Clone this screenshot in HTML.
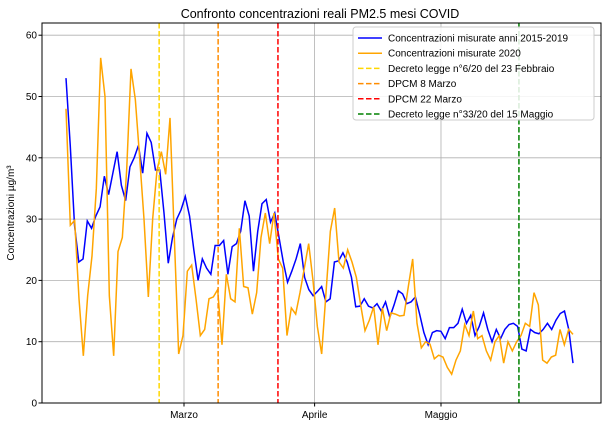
<!DOCTYPE html>
<html><head><meta charset="utf-8">
<style>
body{margin:0;background:#fff;font-family:"Liberation Sans",sans-serif;}
svg text{font-family:"Liberation Sans",sans-serif;}
</style></head>
<body>
<svg id="chart" width="606" height="427" xmlns="http://www.w3.org/2000/svg">
<text x="320" y="18" font-size="12.5" text-anchor="middle">Confronto concentrazioni reali PM2.5 mesi COVID</text>
<g id="grid"></g>
<g id="lines"></g>
<g id="axes"></g>
<text transform="translate(14,213) rotate(-90)" font-size="10" text-anchor="middle">Concentrazioni µg/m³</text>
<g id="legend"></g>
</svg>
<script>
const blueVals=[53,42,29,23,23.5,29.7,28.5,30.5,32,37,34,37.5,41,35.5,33,38.5,40,42,37.5,44,42.5,38,38,31,22.8,27,30,31.5,33.7,30.5,25,20,23.5,22,21,25.7,25.7,26.5,21,25.5,26,28,33,30.5,21.5,28,32.5,33.2,29.5,31,27,23,19.7,21.5,23.5,26,20.5,18.5,17.5,18.2,19,16.5,17,23,23.2,24.5,23,20.5,15.7,15.8,17,15.8,15.5,16.2,15,16.5,14,16,18.3,17.8,16.2,16.5,17.3,14.5,11.5,9.5,11.5,11.8,11.7,10.5,12.3,12.3,13,15.3,13,14.3,11,12.5,14.7,12,10,12,10.5,12,12.8,13,12.5,8.8,8.5,12,11.5,11.3,12,13,12,13.5,14.6,15,12,6.5];
const orangeVals=[48,29,29.8,17,7.7,17.5,24,35,56.3,50,17.5,7.7,24.7,27,38,54.5,49.5,40,30,17.3,30,38,41,37.3,46.5,27,8,11,21.5,22.5,17,11,12,17,17.3,18.5,9.5,21,17,16.5,28.5,19,18.8,14.5,18,27,31,26,31,23.5,22,11,15.5,14.5,18,22,26,20,12.5,8,18,28,31.8,23,22,25,23,20.5,16,11.8,13.5,15.7,9.5,15.5,11.8,14.7,14.5,14.2,14.3,19,23.5,13,9,10,9.6,7.2,7.8,7.5,5.8,4.7,7,8.5,12.8,11,15,10.5,11,8.5,7,10,11,6.5,10,8.5,10,11,13,12.5,18,16,7,6.5,7.5,7.8,12,9.5,12,11.2];
const yTicks=[0,10,20,30,40,50,60];
const monthLabels=["Marzo","Aprile","Maggio"];
const monthDays=[29,60,90];
const eventDays=[23.1,37.1,51.3,108.5];
const eventNames=["Decreto legge n°6/20 del 23 Febbraio","DPCM 8 Marzo","DPCM 22 Marzo","Decreto legge n°33/20 del 15 Maggio"];
const eventColors=["#ffd700","#ff8c00","#ff0000","#008000"];

const L=42,R=601,T=23,B=403,x0=66,x1=573;
const NS="http://www.w3.org/2000/svg";
function sx(i,n){return x0+(x1-x0)*i/(n-1);}
function dx(d){return 184+(d-29)*4.213;}
function sy(v){return B-v*6.13;}
function mk(tag,attrs,parent){const e=document.createElementNS(NS,tag);for(const k in attrs)e.setAttribute(k,attrs[k]);parent.appendChild(e);return e;}
const grid=document.getElementById('grid'),lines=document.getElementById('lines'),axes=document.getElementById('axes'),leg=document.getElementById('legend');
yTicks.forEach(v=>{
  const g=mk('line',{x1:L,x2:R,y1:sy(v),y2:sy(v),stroke:'#b0b0b0','stroke-width':0.8},grid);
  
  
  const t=mk('text',{x:L-5,y:sy(v)+3.5,'font-size':10,'text-anchor':'end'},axes);t.textContent=v;
  
  
  mk('line',{x1:L-3.5,x2:L,y1:sy(v),y2:sy(v),stroke:'#000'},axes);
});
monthDays.forEach((d,i)=>{
  const g=mk('line',{x1:dx(d),x2:dx(d),y1:T,y2:B,stroke:'#b0b0b0','stroke-width':0.8},grid);
  
  
  mk('line',{x1:dx(d),x2:dx(d),y1:B,y2:B+3.5,stroke:'#000'},axes);
  const t=mk('text',{x:dx(d),y:B+15,'font-size':10,'text-anchor':'middle'},axes);t.textContent=monthLabels[i];
  
  
});
function series(vals,color,name){
  const p=mk('polyline',{points:vals.map((v,i)=>sx(i,vals.length)+','+sy(v)).join(' '),fill:'none',stroke:color,'stroke-width':1.5},lines);
  
  
}
series(blueVals,'#0000ff','series-2015-2019');
series(orangeVals,'#ffa500','series-2020');
eventDays.forEach((d,i)=>{
  const l=mk('line',{x1:dx(d),x2:dx(d),y1:T,y2:B,stroke:eventColors[i],'stroke-width':1.5,'stroke-dasharray':'5.5,2.5'},lines);
  
  
});
mk('rect',{x:L,y:T,width:R-L,height:B-T,fill:'none',stroke:'#000','stroke-width':1},axes);
mk('rect',{x:353,y:27,width:241,height:93,fill:'#fff','fill-opacity':0.85,stroke:'#ccc',rx:3},leg);
const legNames=["Concentrazioni misurate anni 2015-2019","Concentrazioni misurate 2020"].concat(eventNames);
const legColors=["#0000ff","#ffa500"].concat(eventColors);
legNames.forEach((n,i)=>{
  const y=38+i*15.2;
  const l=mk('line',{x1:358,x2:382,y1:y,y2:y,stroke:legColors[i],'stroke-width':1.5},leg);
  if(i>=2)l.setAttribute('stroke-dasharray','5.5,2.5');
  
  
  const t=mk('text',{x:388,y:y+3.5,'font-size':10},leg);t.textContent=n;
  
  
});
</script>
</body></html>
